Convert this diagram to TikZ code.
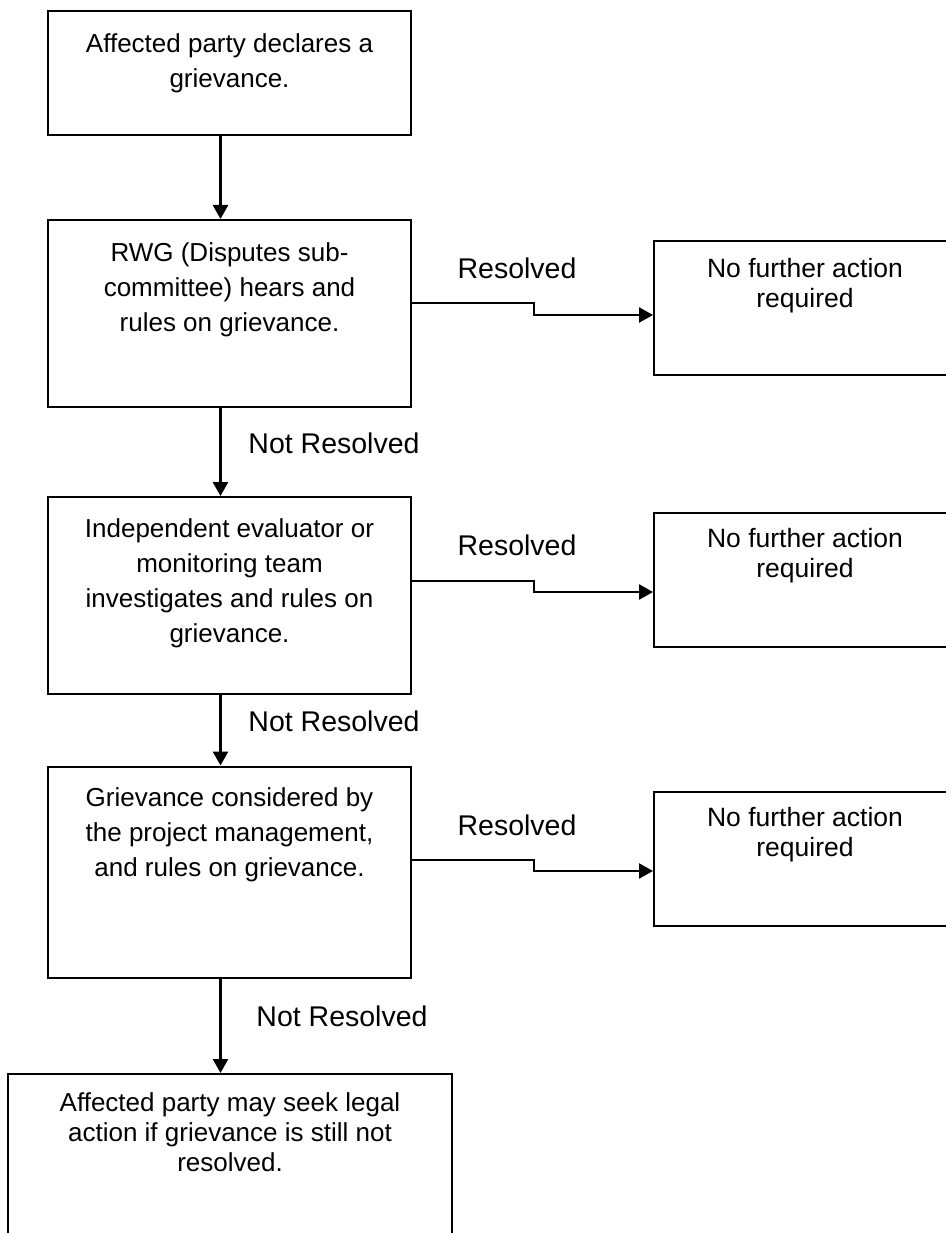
\documentclass[tikz,border=0pt]{standalone}
\usepackage{fontspec}
\setmainfont{Liberation Sans}
\usetikzlibrary{arrows.meta, positioning}

\begin{document}
\begin{tikzpicture}[x=1pt, y=-1pt,
  every node/.style={font=\fontsize{26}{35}\selectfont},
  box/.style={draw, line width=2pt, minimum width=363pt, inner sep=0pt},
  endbox/.style={draw, line width=2pt, minimum width=302pt, minimum height=134pt, inner sep=0pt},
  boxtext/.style={anchor=north, align=center, inner sep=0pt},
  endtext/.style={boxtext, font=\fontsize{26.5}{30}\selectfont},
  flow/.style={line width=2.5pt, -{Triangle[length=14pt, width=15pt]}},
  outcome/.style={font=\fontsize{28.5}{34}\selectfont, inner sep=0pt}]
  \useasboundingbox (0,0) rectangle (945,1233);

  % Main steps down the left
  \node[box, minimum height=124pt] (declare) at (229.5,73) {};
  \node[boxtext] (declaretext) at ([yshift=-23pt]declare.north) {Affected party declares a\\grievance.};

  \node[box, minimum height=187pt] (rwg) at (229.5,313.5) {};
  \node[boxtext] (rwgtext) at ([yshift=-23pt]rwg.north) {RWG (Disputes sub-\\committee) hears and\\rules on grievance.};

  \node[box, minimum height=197pt] (evaluator) at (229.5,595.5) {};
  \node[boxtext] (evaluatortext) at ([yshift=-22pt]evaluator.north) {Independent evaluator or\\monitoring team\\investigates and rules on\\grievance.};

  \node[box, minimum height=211pt] (management) at (229.5,872) {};
  \node[boxtext] (managementtext) at ([yshift=-22pt]management.north) {Grievance considered by\\the project management,\\and rules on grievance.};

  \node[box, minimum width=444pt, minimum height=176pt] (legal) at (230,1162) {};
  \node[boxtext, font=\fontsize{26}{30}\selectfont] (legaltext) at ([yshift=-19pt]legal.north) {Affected party may seek legal\\action if grievance is still not\\resolved.};

  % Outcome boxes on the right
  \node[endbox] (done1) at (805,308) {};
  \node[endtext] (done1text) at ([yshift=-18pt]done1.north) {No further action\\required};
  \node[endbox] (done2) at (805,580) {};
  \node[endtext] (done2text) at ([yshift=-16pt]done2.north) {No further action\\required};
  \node[endbox] (done3) at (805,859) {};
  \node[endtext] (done3text) at ([yshift=-16pt]done3.north) {No further action\\required};

  % Not resolved: down the chain
  \draw[flow] ([xshift=-9pt]declare.south) -- ([xshift=-9pt]declare.south |- rwg.north);
  \draw[flow] ([xshift=-9pt]rwg.south) -- ([xshift=-9pt]rwg.south |- evaluator.north);
  \draw[flow] ([xshift=-9pt]evaluator.south) -- ([xshift=-9pt]evaluator.south |- management.north);
  \draw[flow] ([xshift=-9pt]management.south) -- ([xshift=-9pt]management.south |- legal.north);
  \node[outcome] (notres1) at (334,443) {Not Resolved};
  \node[outcome] (notres2) at (334,721) {Not Resolved};
  \node[outcome] (notres3) at (342,1016) {Not Resolved};

  % Resolved: across to the right
  \draw[flow] ([yshift=10.5pt]rwg.east) -- ++(122,0) |- ([yshift=-7pt]done1.west);
  \draw[flow] ([yshift=14.5pt]evaluator.east) -- ++(122,0) |- ([yshift=-12pt]done2.west);
  \draw[flow] ([yshift=12pt]management.east) -- ++(122,0) |- ([yshift=-12pt]done3.west);
  \node[outcome] (res1) at (517,268) {Resolved};
  \node[outcome] (res2) at (517,545) {Resolved};
  \node[outcome] (res3) at (517,825) {Resolved};
\end{tikzpicture}
\end{document}
